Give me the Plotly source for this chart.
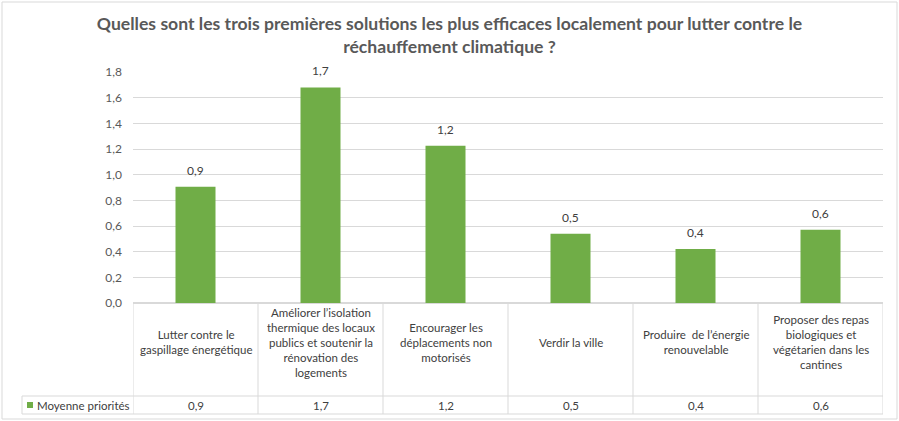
import plotly.graph_objects as go

# donnees
categories = [
    "Lutter contre le<br>gaspillage énergétique",
    "Améliorer l’isolation<br>thermique des locaux<br>publics et soutenir la<br>rénovation des<br>logements",
    "Encourager les<br>déplacements non<br>motorisés",
    "Verdir la ville",
    "Produire  de l’énergie<br>renouvelable",
    "Proposer des repas<br>biologiques et<br>végétarien dans les<br>cantines",
]
moyenne = [0.905, 1.68, 1.225, 0.54, 0.42, 0.57]
serie = "Moyenne priorités"
titre = ("Quelles sont les trois premières solutions les plus efficaces localement pour lutter contre le<br>"
         "réchauffement climatique ?")
y_ticks = [0.0, 0.2, 0.4, 0.6, 0.8, 1.0, 1.2, 1.4, 1.6, 1.8]
y_labels = ["0,0", "0,2", "0,4", "0,6", "0,8", "1,0", "1,2", "1,4", "1,6", "1,8"]

vert = "#70AD47"
gris = "#D9D9D9"
texte = "#595959"
police = "Lato"

n = len(categories)
xs = list(range(n))

fig = go.Figure()
fig.add_trace(go.Bar(
    x=xs, y=moyenne, width=0.32,
    marker=dict(color=vert, line=dict(width=0)),
    showlegend=False, hoverinfo="y",
))

# tableau de donnees sous le graphique (px -> coord. papier)
L, R, T, B = 133, 883, 72, 303
def px_x(p):
    return (p - L) / (R - L)
def px_y(p):
    return (B - p) / (B - T)

ligne = dict(color=gris, width=1)
shapes = []
y_top, y_mid, y_bot = px_y(303), px_y(396), px_y(414)
x_leg = px_x(22)
shapes.append(dict(type="line", xref="paper", yref="paper", x0=x_leg, x1=1, y0=y_mid, y1=y_mid, line=ligne))
shapes.append(dict(type="line", xref="paper", yref="paper", x0=x_leg, x1=1, y0=y_bot, y1=y_bot, line=ligne))
shapes.append(dict(type="line", xref="paper", yref="paper", x0=x_leg, x1=x_leg, y0=y_mid, y1=y_bot, line=ligne))
for i in range(n + 1):
    shapes.append(dict(type="line", xref="x", yref="paper", x0=i - 0.5, x1=i - 0.5,
                       y0=y_top, y1=y_bot, line=ligne))
# cadre exterieur
shapes.append(dict(type="rect", xref="paper", yref="paper", x0=px_x(2), x1=px_x(897),
                   y0=px_y(419), y1=px_y(2), line=ligne))
# carre de legende
shapes.append(dict(type="rect", xref="paper", yref="paper", x0=px_x(27), x1=px_x(33),
                   y0=px_y(408), y1=px_y(402), fillcolor=vert, line=dict(width=0)))

f_tab = dict(size=11.5, color="#404040", family=police)
annotations = []
for i, (c, v) in enumerate(zip(categories, moyenne)):
    lab = f"{v:.1f}".replace(".", ",")
    # etiquette au-dessus de la barre
    annotations.append(dict(x=i, y=v, xref="x", yref="y", text=lab, showarrow=False,
                            xanchor="center", yanchor="bottom", yshift=7,
                            font=dict(size=12, color="#404040", family=police)))
    annotations.append(dict(x=i, y=px_y(342), xref="x", yref="paper", text=c, showarrow=False,
                            xanchor="center", yanchor="middle", font=f_tab, align="center"))
    annotations.append(dict(x=i, y=px_y(405), xref="x", yref="paper", text=lab, showarrow=False,
                            xanchor="center", yanchor="middle", font=f_tab))
annotations.append(dict(x=px_x(35), y=px_y(405), xref="paper", yref="paper", text=serie,
                        xanchor="left", yanchor="middle", showarrow=False, font=f_tab))

fig.update_layout(
    width=899, height=421,
    margin=dict(l=L, r=899 - R, t=T, b=421 - B),
    paper_bgcolor="white", plot_bgcolor="white",
    title=dict(text=titre, x=0.5, xanchor="center", y=1 - 30 / 421, yanchor="middle",
               font=dict(size=17.6, color=texte, family=police, weight="bold")),
    xaxis=dict(range=[-0.5, n - 0.5], showticklabels=False, showgrid=False, zeroline=False,
               showline=False, fixedrange=True),
    yaxis=dict(range=[0, 1.8], tickvals=y_ticks, ticktext=y_labels, showgrid=True, gridcolor=gris,
               gridwidth=1, zeroline=True, zerolinecolor=gris, showline=False, ticks="",
               ticklabelstandoff=10, fixedrange=True,
               tickfont=dict(size=12, color=texte, family=police)),
    shapes=shapes, annotations=annotations,
    font=dict(family=police),
)

# la page html a une marge de 8px par defaut : on la retire
fig.write_html("out.html", config={"displayModeBar": False},
               post_script="document.body.style.margin='0px';")
